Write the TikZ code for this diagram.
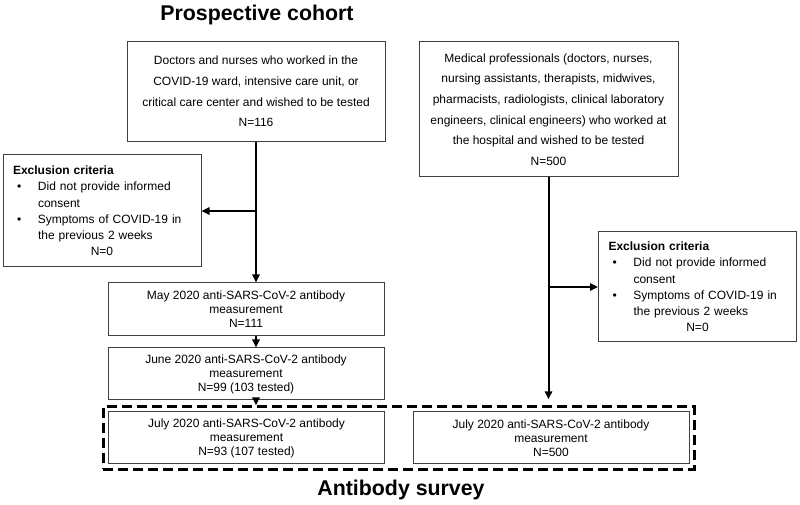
\documentclass[tikz,border=0pt]{standalone}
\usepackage{fontspec}
\setmainfont{Liberation Sans}
\usetikzlibrary{arrows.meta,fit}

\newcommand{\critem}{\makebox[18.75pt][l]{\hspace{3pt}\textbullet}}
\newcommand{\crindent}{\hspace*{18.75pt}}

\tikzset{
  box/.style={draw=black!75, line width=0.75pt, inner sep=0pt, align=center,
    font=\fontsize{9pt}{15.5pt}\selectfont},
  meas/.style={box, minimum width=207pt, minimum height=39pt,
    font=\fontsize{9pt}{10.5pt}\selectfont},
  excl/.style={box, align=left, text width=133.5pt, minimum width=148.5pt,
    font=\fontsize{9pt}{12.2pt}\selectfont},
  arr/.style={-{Triangle[length=6pt,width=5.5pt]}, line width=1.5pt},
  headline/.style={font=\fontsize{16pt}{19pt}\selectfont\bfseries}
}

\begin{document}
\begin{tikzpicture}[x=0.75pt,y=-0.75pt]
\useasboundingbox (0,0) rectangle (800,505);

% titles
\node[headline] (cohort) at (257,15) {Prospective cohort};
\node[headline] (antib) at (401,490) {Antibody survey};

% starting populations
\node[box, minimum width=193.5pt, minimum height=75pt] (docs) at (256,91.5)
  {Doctors and nurses who worked in the\\
   COVID-19 ward, intensive care unit, or\\
   critical care center and wished to be tested\\
   N=116};
\node[box, minimum width=194.25pt, minimum height=101.25pt] (staff) at (548.5,109.5)
  {Medical professionals (doctors, nurses,\\
   nursing assistants, therapists, midwives,\\
   pharmacists, radiologists, clinical laboratory\\
   engineers, clinical engineers) who worked at\\
   the hospital and wished to be tested\\
   N=500};

% exclusion criteria
\node[excl, minimum height=84pt] (exclL) at (102,211)
  {\textbf{Exclusion criteria}\\
   \critem Did not provide informed\\
   \crindent consent\\
   \critem Symptoms of COVID-19 in\\
   \crindent the previous 2 weeks\\
   \makebox[133.5pt]{N=0}};
\node[excl, minimum height=82.5pt] (exclR) at (697.5,287)
  {\textbf{Exclusion criteria}\\
   \critem Did not provide informed\\
   \crindent consent\\
   \critem Symptoms of COVID-19 in\\
   \crindent the previous 2 weeks\\
   \makebox[133.5pt]{N=0}};

% measurements
\node[meas, minimum height=39.75pt] (may) at (246,309.5)
  {May 2020 anti-SARS-CoV-2 antibody\\ measurement\\ N=111};
\node[meas] (june) at (246,374)
  {June 2020 anti-SARS-CoV-2 antibody\\ measurement\\ N=99 (103 tested)};
\node[meas] (julyL) at (246.5,438)
  {July 2020 anti-SARS-CoV-2 antibody\\ measurement\\ N=93 (107 tested)};
\node[meas] (julyR) at (551,438)
  {July 2020 anti-SARS-CoV-2 antibody\\ measurement\\ N=500};

% antibody survey frame
\node[draw, line width=2.25pt, dash pattern=on 7.5pt off 3.75pt, inner sep=3.5pt,
  fit=(julyL) (julyR)] (survey) {};

% arrows
\draw[arr] (docs.south) -- (docs.south |- may.north);
\draw[arr] (docs.south |- exclL.east) -- (exclL.east);
\draw[arr] (docs.south |- may.south) -- (docs.south |- june.north);
\draw[arr] (docs.south |- june.south) -- (docs.south |- survey.north);
\draw[arr] (staff.south) -- ([yshift=4.5pt]staff.south |- survey.north);
\draw[arr] (staff.south |- exclR.west) -- (exclR.west);
\end{tikzpicture}
\end{document}
